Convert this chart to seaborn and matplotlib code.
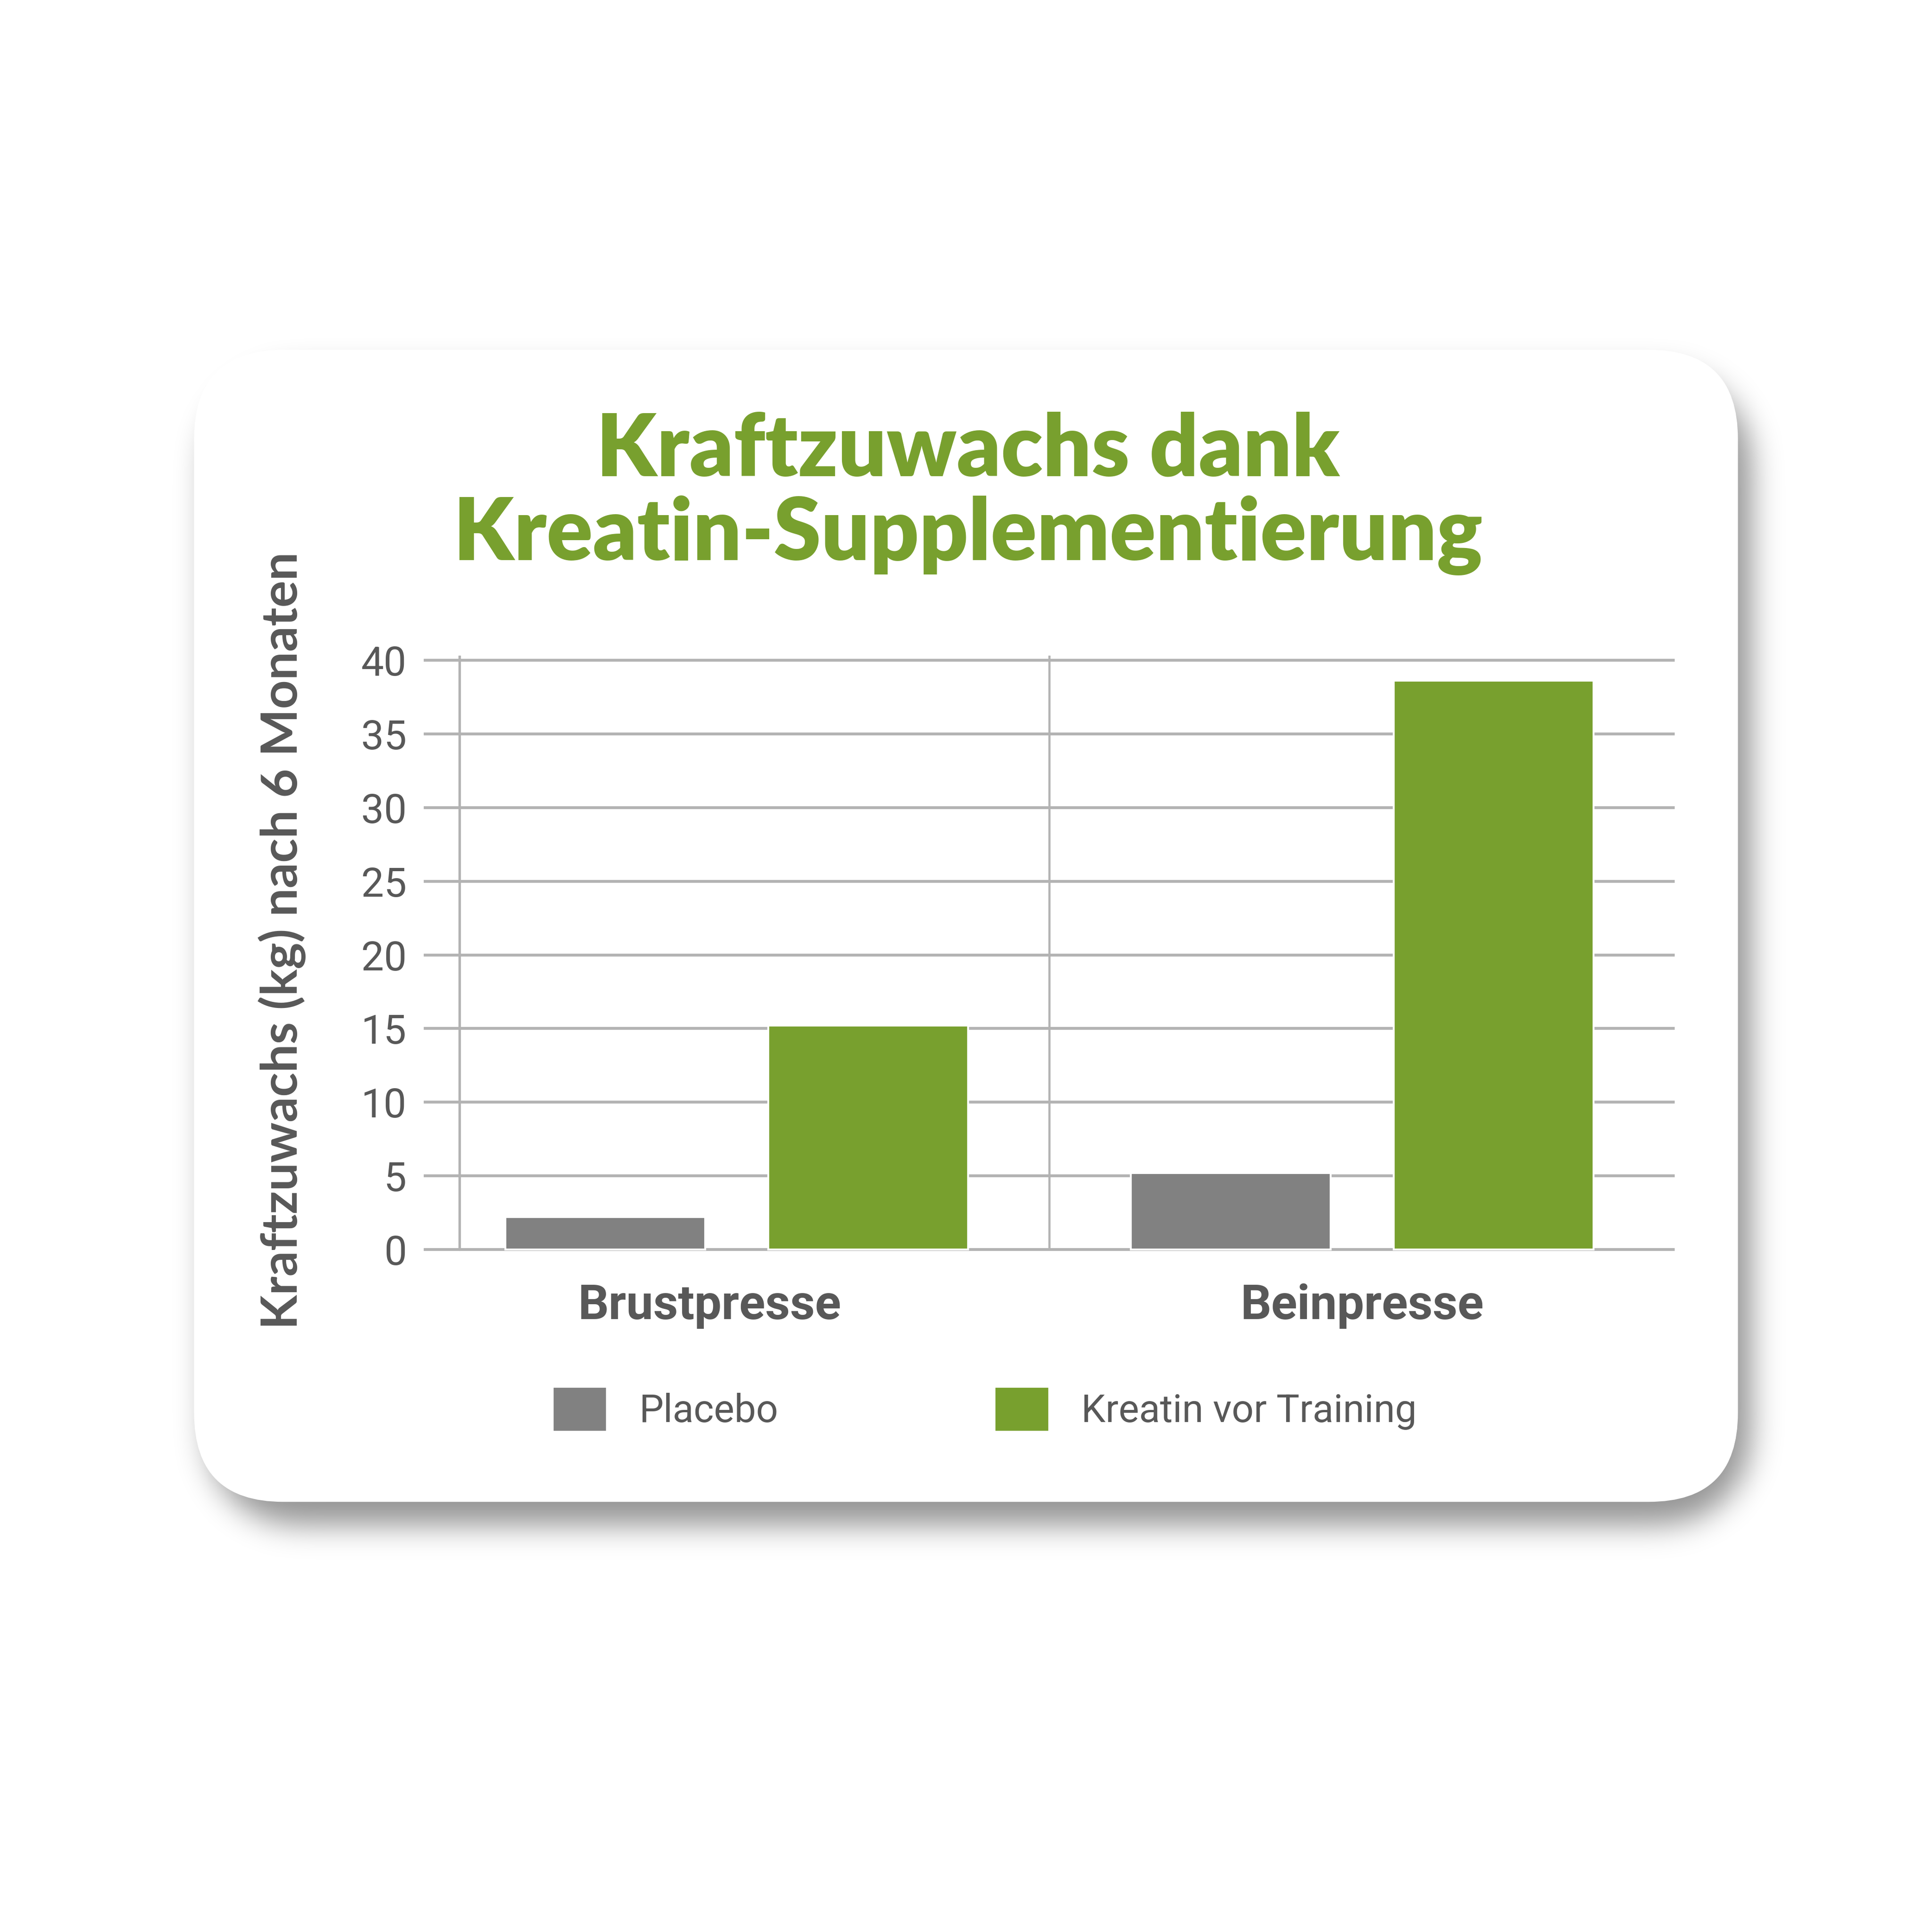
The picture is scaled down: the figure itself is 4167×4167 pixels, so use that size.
import numpy as np
import pandas as pd
import seaborn as sns
import matplotlib.pyplot as plt
import matplotlib.transforms as mtransforms
from matplotlib.patches import FancyBboxPatch

# data
exercises = ["Brustpresse", "Beinpresse"]
groups = ["Placebo", "Kreatin vor Training"]
placebo_kg = [2.2, 5.2]
kreatin_kg = [15.2, 38.6]
y_ticks = [0, 5, 10, 15, 20, 25, 30, 35, 40]

title_lines = ["Kraftzuwachs dank", "Kreatin-Supplementierung"]
y_label = "Kraftzuwachs (kg) nach 6 Monaten"

GREEN = "#78A02E"
GRAY_BAR = "#818181"
GRID = "#B3B3B3"
TEXT = "#585858"

df = pd.DataFrame({
    "exercise": exercises * 2,
    "group": [groups[0]] * 2 + [groups[1]] * 2,
    "kg": placebo_kg + kreatin_kg,
})

sns.set_theme(style="white")
plt.rcParams["font.family"] = ["Lato", "DejaVu Sans"]
narrow = ["Roboto", "DejaVu Sans"]

fig = plt.figure(figsize=(4167 / 300, 4167 / 300), dpi=300)
fig.patch.set_facecolor("white")

# card shadow, blurred rounded rectangle drawn as an image
N = 1563
x0, x1, y0, y1, r = 157, 1406, 283, 1215, 72
dx, dy, sigma = 10, 18, 12
yy, xx = np.mgrid[0:N, 0:N].astype(float)
ex = np.maximum.reduce([x0 + dx + r - xx, np.zeros_like(xx), xx - (x1 + dx - r)])
ey = np.maximum.reduce([y0 + dy + r - yy, np.zeros_like(yy), yy - (y1 + dy - r)])
mask = ((ex ** 2 + ey ** 2) <= r ** 2).astype(float)
k = np.arange(-3 * sigma, 3 * sigma + 1)
kern = np.exp(-k ** 2 / (2 * sigma ** 2))
kern /= kern.sum()
blur = np.apply_along_axis(lambda v: np.convolve(v, kern, mode="same"), 0, mask)
blur = np.apply_along_axis(lambda v: np.convolve(v, kern, mode="same"), 1, blur)
rgba = np.zeros((N, N, 4))
rgba[..., 3] = 0.42 * blur

bg = fig.add_axes([0, 0, 1, 1], zorder=0)
bg.imshow(rgba, extent=[0, 1, 0, 1], origin="upper", interpolation="bilinear")
bg.set_xlim(0, 1)
bg.set_ylim(0, 1)
bg.axis("off")
card = FancyBboxPatch((x0 / N, 1 - y1 / N), (x1 - x0) / N, (y1 - y0) / N,
                      boxstyle="round,pad=0,rounding_size=%f" % (r / N),
                      facecolor="white", edgecolor="none", transform=bg.transAxes)
bg.add_patch(card)

# main chart
ax = fig.add_axes([343 / N, 1 - 1014.6 / N, 1012 / N, 484.2 / N], zorder=2)
ax.patch.set_alpha(0)
sns.barplot(data=df, x="exercise", y="kg", hue="group", order=exercises,
            hue_order=groups, palette=[GRAY_BAR, GREEN], width=0.84, gap=0.24,
            saturation=1, errorbar=None, ax=ax, zorder=3, legend=True)

ax.set_xlim(-0.5, 1.5)
ax.set_ylim(-0.3, 40.3)
ax.set_yticks(y_ticks)
ax.yaxis.grid(True, color=GRID, linewidth=1.5, zorder=0)
ax.set_axisbelow(True)
for s in ax.spines.values():
    s.set_visible(False)
ax.axvline(-0.443, ymin=0.3 / 40.6, ymax=1.0, color=GRID, linewidth=1.3, zorder=1)
ax.axvline(0.5, ymin=0.3 / 40.6, ymax=1.0, color=GRID, linewidth=1.1, zorder=1)

ax.tick_params(axis="y", length=0, pad=9, labelsize=21, labelcolor=TEXT)
ax.tick_params(axis="x", length=0, pad=15, labelsize=25, labelcolor=TEXT)
for t in ax.get_yticklabels():
    t.set_family(narrow)
for t in ax.get_xticklabels():
    t.set_family(narrow)
    t.set_fontweight("bold")
# first category label sits a little left of its bar group in the original
shift = mtransforms.ScaledTranslation(-14 / 72, 0, fig.dpi_scale_trans)
lbl = ax.get_xticklabels()[0]
lbl.set_transform(lbl.get_transform() + shift)
ax.set_xlabel("")
ax.set_ylabel("")

# legend below the chart
handles, labels = ax.get_legend_handles_labels()
ax.legend(handles, labels, loc="center left", bbox_to_anchor=(447 / N, 1 - 1140 / N),
          bbox_transform=fig.transFigure, ncol=2, frameon=False,
          prop={"family": narrow, "size": 20}, labelcolor=TEXT,
          handlelength=1.41, handleheight=1.41, handletextpad=0.83,
          columnspacing=5.6, borderpad=0, borderaxespad=0)

# title and axis label
fig.text(0.501, 1 - 385 / N, title_lines[0], ha="center", va="baseline",
         fontsize=44.3, fontweight="heavy", color=GREEN, zorder=3)
fig.text(0.501, 1 - 453 / N, title_lines[1], ha="center", va="baseline",
         fontsize=44.3, fontweight="heavy", color=GREEN, zorder=3)
fig.text(228 / N, 1 - 761 / N, y_label, rotation=90, ha="center", va="center",
         fontsize=26, fontweight="bold", color=TEXT, zorder=3)

fig.savefig("out.png", dpi=300, facecolor="white")
